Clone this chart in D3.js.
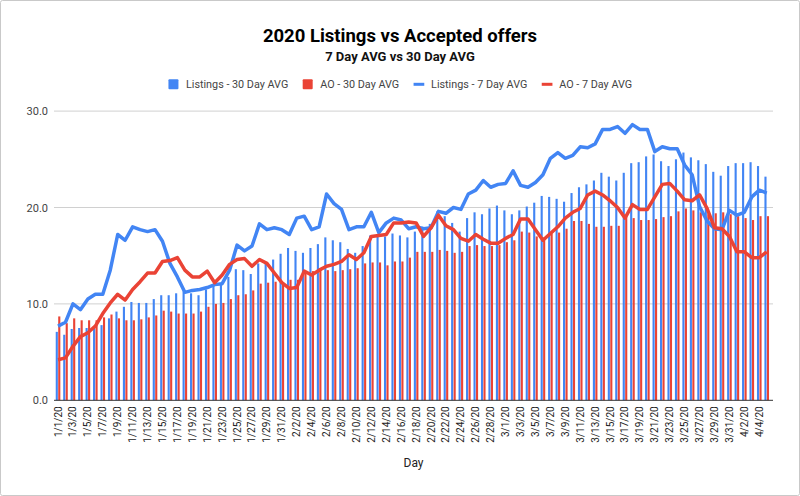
<!DOCTYPE html>
<html><head><meta charset="utf-8">
<script src="https://cdn.jsdelivr.net/npm/d3@7"></script>
<style>
body{margin:0;background:#fff}
svg{display:block}
text{font-family:Roboto,"Liberation Sans",Arial,sans-serif}
</style>
</head><body>
<svg id="c" width="800" height="496"></svg>
<script>
const days = ["1/1/20","1/2/20","1/3/20","1/4/20","1/5/20","1/6/20","1/7/20","1/8/20","1/9/20","1/10/20",
"1/11/20","1/12/20","1/13/20","1/14/20","1/15/20","1/16/20","1/17/20","1/18/20","1/19/20","1/20/20",
"1/21/20","1/22/20","1/23/20","1/24/20","1/25/20","1/26/20","1/27/20","1/28/20","1/29/20","1/30/20","1/31/20",
"2/1/20","2/2/20","2/3/20","2/4/20","2/5/20","2/6/20","2/7/20","2/8/20","2/9/20","2/10/20",
"2/11/20","2/12/20","2/13/20","2/14/20","2/15/20","2/16/20","2/17/20","2/18/20","2/19/20","2/20/20",
"2/21/20","2/22/20","2/23/20","2/24/20","2/25/20","2/26/20","2/27/20","2/28/20","2/29/20",
"3/1/20","3/2/20","3/3/20","3/4/20","3/5/20","3/6/20","3/7/20","3/8/20","3/9/20","3/10/20",
"3/11/20","3/12/20","3/13/20","3/14/20","3/15/20","3/16/20","3/17/20","3/18/20","3/19/20","3/20/20",
"3/21/20","3/22/20","3/23/20","3/24/20","3/25/20","3/26/20","3/27/20","3/28/20","3/29/20","3/30/20","3/31/20",
"4/1/20","4/2/20","4/3/20","4/4/20","4/5/20"];

const listings30 = [7.1,6.8,7.4,7.5,7.5,7.7,7.8,8.5,9.2,9.7,10.2,10.1,10.1,10.5,10.9,10.9,
11.1,11.3,11.1,10.9,11.5,12.0,12.2,12.8,13.6,13.5,13.1,14.2,14.2,14.6,15.2,15.8,
15.5,15.3,15.8,16.2,16.9,16.6,16.4,15.7,15.3,16.0,17.1,17.1,17.0,17.3,17.1,16.9,
17.5,18.0,18.3,19.6,19.1,18.4,17.5,18.9,19.5,19.3,19.9,20.2,19.7,19.3,19.7,
20.1,20.5,21.2,21.1,20.9,20.6,21.5,22.1,22.4,22.8,23.6,23.2,22.8,23.6,24.6,24.7,
25.3,25.5,24.8,24.3,25.0,25.7,25.2,24.9,24.5,23.7,23.3,24.3,24.6,24.6,24.7,24.3,23.2];

const ao30 = [8.7,8.0,8.5,8.3,8.3,8.3,8.6,8.9,8.5,8.3,8.3,8.4,8.6,8.8,9.3,9.2,
9.0,9.0,9.0,9.2,9.7,10.0,10.1,10.5,10.9,11.0,11.4,12.1,12.2,12.3,12.2,12.5,
12.5,13.4,13.4,13.7,13.5,13.4,13.5,13.6,13.7,14.2,14.3,14.3,14.0,14.4,14.4,14.8,
15.4,15.4,15.4,15.6,15.5,15.3,15.4,16.0,16.1,16.0,16.0,16.1,16.4,16.6,17.5,
17.4,17.0,16.9,17.3,17.4,17.8,18.6,18.6,18.3,18.0,18.0,18.1,18.1,19.0,18.9,18.7,
18.7,18.8,19.0,19.1,19.6,19.9,19.7,19.5,19.3,19.4,19.5,19.3,19.1,18.9,18.7,19.1,19.1];

const listings7 = [7.7,8.1,10.0,9.4,10.5,11.0,11.0,13.5,17.2,16.6,18.0,17.7,17.5,17.7,16.5,14.2,
12.8,11.2,11.4,11.5,11.7,12.0,12.1,13.5,16.1,15.5,16.0,18.3,17.7,17.9,17.7,17.2,
18.9,19.1,17.7,18.0,21.4,20.4,19.8,17.7,18.0,18.0,19.5,17.4,18.4,18.9,18.7,17.8,
18.0,17.8,17.9,19.6,19.4,20.0,19.8,21.4,21.8,22.8,22.1,22.4,22.5,23.8,22.3,
22.1,22.6,23.4,25.1,25.7,25.1,25.4,26.3,26.2,26.6,28.1,28.1,28.4,27.7,28.6,28.1,
28.1,25.8,26.3,26.1,26.1,24.4,23.4,20.1,18.6,17.8,17.7,19.7,19.2,19.5,21.1,21.8,21.5];

const ao7 = [4.2,4.4,5.6,6.6,7.0,7.7,9.0,10.1,11.0,10.4,11.5,12.3,13.2,13.2,14.4,14.5,
14.8,13.5,12.8,12.8,13.4,12.2,13.0,14.1,14.6,14.7,13.9,14.6,14.2,13.2,12.2,11.6,
11.7,13.4,13.0,13.5,13.9,14.1,14.4,15.1,14.6,15.3,17.0,17.1,17.2,18.4,18.4,18.5,
18.4,17.0,17.9,19.2,18.1,17.7,16.8,16.5,17.2,16.7,16.3,16.3,16.8,17.2,18.8,
18.8,17.7,16.6,17.3,18.0,18.9,19.5,19.9,21.3,21.7,21.3,20.7,20.0,18.9,20.3,19.8,
19.8,21.1,22.4,22.5,21.7,20.8,20.7,21.3,19.9,17.9,17.8,17.0,15.4,15.4,14.8,14.8,15.4];

const yTicks = [0, 10, 20, 30];
const seriesNames = ["Listings - 30 Day AVG", "AO - 30 Day AVG", "Listings - 7 Day AVG", "AO - 7 Day AVG"];
const titleText = "2020 Listings vs Accepted offers";
const subtitleText = "7 Day AVG vs 30 Day AVG";
const xTitle = "Day";

const BLUE = "#4285F4", RED = "#EA4335";
const FONT = 'Roboto,"Liberation Sans",Arial,sans-serif';
const svg = d3.select("#c");

svg.append("rect").attr("x",0.5).attr("y",0.5).attr("width",799).attr("height",495)
  .attr("fill","#fff").attr("stroke","#c9c9c9").attr("rx",2);

const x0 = d3.scaleBand().domain(days).range([54.3, 770.46]).padding(0);
const x1 = d3.scaleBand().domain(["l","a"]).range([-2.3, 2.3]).paddingInner(0.15);
const cx = d => x0(d) + x0.bandwidth()/2;
const y = d3.scaleLinear().domain([0, 30]).range([400.3, 111.1]);

// grid
svg.append("g").selectAll("line").data(yTicks.filter(t => t > 0)).join("line")
  .attr("x1", 54).attr("x2", 773).attr("y1", d => y(d)).attr("y2", d => y(d))
  .attr("stroke", "#d0d0d0").attr("stroke-width", 1);

// y labels
const yAxis = d3.axisLeft(y).tickValues(yTicks).tickFormat(d3.format(".1f")).tickSize(0).tickPadding(6);
const ya = svg.append("g").attr("transform","translate(54,0)").call(yAxis);
ya.select(".domain").remove();
ya.selectAll("text").attr("font-size", 11).attr("fill", "#444").style("font-family", FONT);

// bars
const gBars = svg.append("g");
gBars.selectAll("rect.l").data(days).join("rect").attr("class","l")
  .attr("x", (d) => cx(d) + x1("l")).attr("width", x1.bandwidth())
  .attr("y", (d,i) => y(listings30[i])).attr("height", (d,i) => y(0) - y(listings30[i]))
  .attr("fill", BLUE);
gBars.selectAll("rect.a").data(days).join("rect").attr("class","a")
  .attr("x", (d) => cx(d) + x1("a")).attr("width", x1.bandwidth())
  .attr("y", (d,i) => y(ao30[i])).attr("height", (d,i) => y(0) - y(ao30[i]))
  .attr("fill", RED);

// baseline
svg.append("line").attr("x1",54).attr("x2",773).attr("y1",y(0)).attr("y2",y(0))
  .attr("stroke","#333").attr("stroke-width",1);

// lines
const line = d3.line().x((d,i) => cx(days[i])).y(d => y(d));
svg.append("path").datum(listings7).attr("d", line).attr("fill","none")
  .attr("stroke", BLUE).attr("stroke-width", 3.5).attr("stroke-linejoin","round");
svg.append("path").datum(ao7).attr("d", line).attr("fill","none")
  .attr("stroke", RED).attr("stroke-width", 3.5).attr("stroke-linejoin","round");

// x labels
const xAxis = d3.axisBottom(x0).tickValues(days.filter((d,i) => i % 2 === 0)).tickSize(0).tickPadding(0);
const xa = svg.append("g").attr("transform", `translate(0,${y(0)})`).call(xAxis);
xa.select(".domain").remove();
xa.selectAll("text")
  .attr("transform","rotate(-90)")
  .attr("x", -6).attr("y", 0).attr("dy", "0.35em")
  .attr("text-anchor","end")
  .attr("font-size", 10).attr("fill", "#222")
  .style("font-family", FONT);

// titles
svg.append("text").attr("x",400).attr("y",41.7).attr("text-anchor","middle")
  .attr("font-size",18.5).attr("font-weight","bold").attr("fill","#000").text(titleText);
svg.append("text").attr("x",400).attr("y",60.7).attr("text-anchor","middle")
  .attr("font-size",13).attr("font-weight","bold").attr("fill","#111").text(subtitleText);
svg.append("text").attr("x",413.5).attr("y",467).attr("text-anchor","middle")
  .attr("font-size",12).attr("fill","#222").text(xTitle);

// legend
const leg = svg.append("g");
const colors = [BLUE, RED, BLUE, RED];
const kinds = ["sq","sq","ln","ln"];
let xpos = 0;
seriesNames.forEach((n,i) => {
  const g = leg.append("g");
  if (kinds[i] === "sq") g.append("rect").attr("x",0).attr("y",-5).attr("width",10).attr("height",10).attr("rx",1).attr("fill",colors[i]);
  else g.append("rect").attr("x",0).attr("y",-1.5).attr("width",10.7).attr("height",3).attr("fill",colors[i]);
  const t = g.append("text").attr("x",17.5).attr("y",0).attr("dy","0.35em").attr("font-size",10.8).attr("fill","#444").text(n);
  const w = 17.5 + t.node().getComputedTextLength();
  g.attr("transform", `translate(${xpos},84.3)`);
  xpos += w + 14.4;
});
const totalW = xpos - 14.4;
leg.attr("transform", `translate(${400.3 - totalW/2},0)`);
</script>
</body></html>
